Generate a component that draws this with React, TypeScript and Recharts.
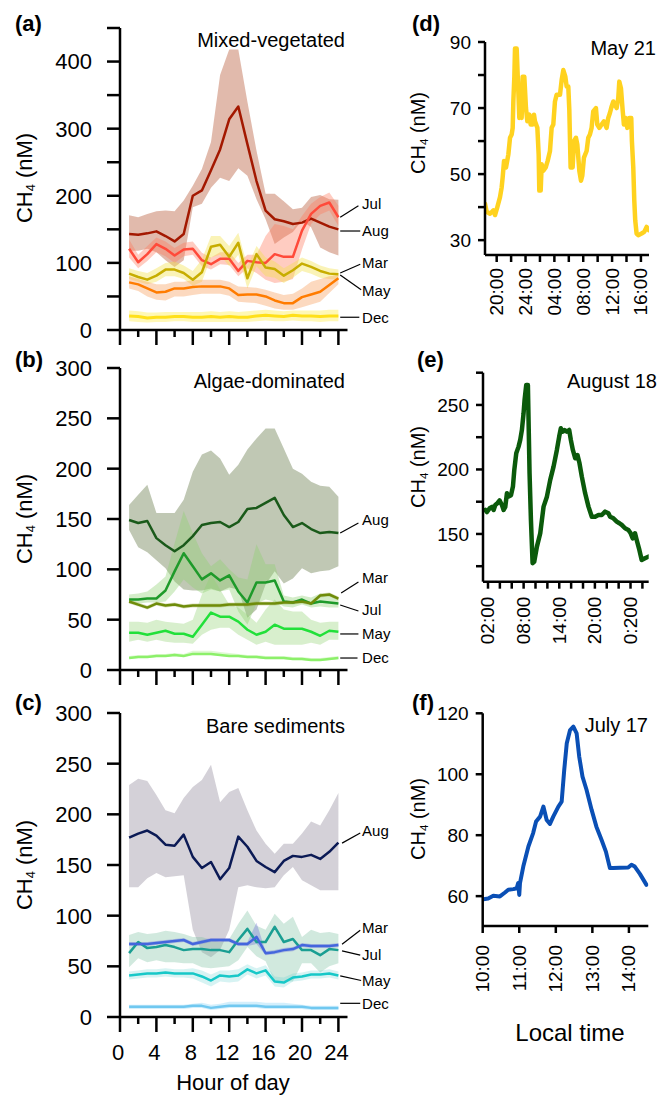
import React from "react";
import {
  ComposedChart,
  LineChart,
  Line,
  Area,
  XAxis,
  YAxis,
  ReferenceLine,
  ReferenceDot,
} from "recharts";

const FONT = "'Liberation Sans', Arial, Helvetica, sans-serif";

// hour of day, panels a-c
const hours = [1, 2, 3, 4, 5, 6, 7, 8, 9, 10, 11, 12, 13, 14, 15, 16, 17, 18, 19, 20, 21, 22, 23, 24];

// (a) Mixed-vegetated
const aAugMean = [143, 142, 144, 147, 140, 132, 143, 200, 208, 238, 269, 314, 333, 277, 222, 178, 165, 162, 158, 160, 166, 160, 154, 150];
const aAugHigh = [171, 168, 173, 177, 178, 177, 193, 215, 240, 280, 380, 418, 418, 340, 267, 203, 203, 192, 180, 182, 198, 201, 195, 194];
const aAugLow = [118, 118, 121, 116, 104, 94, 104, 183, 188, 212, 227, 222, 241, 230, 195, 165, 128, 138, 146, 163, 153, 123, 116, 111];
const aJulMean = [121, 101, 113, 128, 121, 111, 120, 121, 104, 98, 106, 106, 88, 103, 101, 100, 113, 109, 109, 148, 173, 185, 190, 168];
const aJulHigh = [135, 112, 125, 138, 132, 122, 130, 132, 115, 108, 116, 116, 100, 112, 112, 140, 158, 155, 150, 170, 188, 198, 205, 185];
const aJulLow = [108, 92, 103, 116, 110, 100, 110, 112, 95, 90, 98, 97, 80, 92, 85, 75, 70, 72, 76, 120, 158, 172, 178, 155];
const aMarMean = [84, 79, 75, 81, 90, 90, 85, 75, 86, 124, 127, 109, 130, 77, 113, 93, 91, 81, 89, 99, 94, 88, 84, 83];
const aMarHigh = [92, 88, 85, 92, 100, 102, 96, 88, 105, 140, 140, 125, 145, 95, 125, 108, 102, 92, 100, 108, 103, 96, 92, 90];
const aMarLow = [76, 72, 68, 72, 80, 80, 76, 66, 72, 108, 112, 95, 112, 62, 95, 80, 78, 70, 78, 88, 84, 78, 76, 75];
const aMayMean = [71, 68, 62, 56, 57, 62, 62, 64, 65, 65, 65, 62, 52, 53, 53, 50, 44, 40, 40, 49, 53, 57, 67, 77];
const aMayHigh = [80, 76, 72, 68, 68, 72, 72, 74, 75, 75, 75, 72, 65, 64, 63, 60, 56, 52, 54, 62, 72, 76, 80, 82];
const aMayLow = [62, 58, 50, 45, 44, 50, 50, 52, 54, 54, 54, 51, 42, 41, 40, 36, 32, 30, 30, 34, 38, 42, 55, 68];
const aDecMean = [21, 20, 18, 19, 19, 20, 20, 19, 19, 20, 19, 20, 19, 19, 21, 22, 21, 20, 22, 21, 21, 20, 21, 21];
const aDecHigh = [29, 28, 26, 26, 27, 27, 27, 27, 27, 28, 27, 28, 27, 28, 29, 30, 29, 28, 29, 29, 29, 29, 30, 30];
const aDecLow = [13, 12, 11, 12, 12, 13, 13, 12, 12, 12, 12, 12, 12, 12, 13, 14, 13, 13, 14, 13, 13, 12, 13, 13];

// (b) Algae-dominated
const bAugMean = [149, 146, 148, 131, 124, 118, 124, 133, 144, 146, 147, 142, 147, 160, 161, 166, 171, 154, 142, 146, 140, 136, 137, 136];
const bAugHigh = [164, 174, 184, 156, 156, 156, 169, 197, 214, 218, 210, 194, 204, 219, 230, 240, 240, 220, 200, 195, 187, 183, 182, 172];
const bAugLow = [139, 122, 117, 109, 101, 88, 80, 79, 79, 81, 78, 82, 80, 52, 60, 85, 98, 86, 91, 101, 96, 98, 99, 103];
const bJulMean = [70, 70, 71, 71, 79, 98, 116, 103, 90, 96, 89, 94, 78, 67, 87, 87, 89, 68, 67, 70, 66, 68, 67, 66];
const bJulHigh = [75, 76, 78, 85, 93, 126, 158, 136, 116, 103, 110, 100, 92, 90, 125, 105, 105, 74, 72, 74, 72, 76, 75, 72];
const bJulLow = [66, 66, 67, 67, 68, 78, 90, 82, 76, 80, 78, 80, 58, 45, 66, 70, 68, 63, 62, 65, 62, 63, 62, 62];
const bMarMean = [68, 65, 62, 66, 64, 65, 63, 64, 64, 64, 64, 65, 65, 65, 66, 66, 66, 67, 67, 68, 66, 74, 75, 71];
const bMarHigh = [70, 67, 64, 68, 66, 67, 65, 66, 66, 66, 66, 67, 67, 67, 68, 68, 68, 69, 69, 70, 68, 76, 77, 73];
const bMarLow = [66, 63, 60, 64, 62, 63, 61, 62, 62, 62, 62, 63, 63, 63, 64, 64, 64, 65, 65, 66, 64, 72, 73, 69];
const bMayMean = [37, 37, 35, 37, 39, 36, 36, 33, 45, 57, 53, 53, 48, 40, 35, 38, 45, 41, 41, 41, 38, 34, 39, 38];
const bMayHigh = [48, 48, 47, 50, 48, 47, 46, 50, 75, 95, 80, 65, 62, 55, 47, 60, 70, 60, 58, 58, 50, 47, 48, 48];
const bMayLow = [28, 30, 28, 30, 28, 27, 27, 26, 35, 40, 42, 42, 35, 30, 25, 28, 25, 25, 25, 25, 27, 25, 30, 30];
const bDecMean = [12, 13, 13, 14, 14, 15, 14, 16, 16, 16, 15, 14, 14, 13, 13, 12, 12, 12, 11, 11, 10, 10, 11, 12];
const bDecHigh = [14, 15, 15, 16, 16, 17, 16, 19, 19, 19, 18, 17, 16, 15, 15, 14, 14, 14, 13, 13, 12, 12, 13, 14];
const bDecLow = [11, 12, 12, 13, 13, 14, 13, 15, 15, 15, 14, 13, 13, 12, 12, 11, 11, 11, 10, 10, 9, 9, 10, 11];

// (c) Bare sediments
const cAugMean = [177, 181, 184, 179, 170, 169, 180, 158, 147, 153, 136, 147, 178, 168, 154, 148, 143, 154, 159, 158, 160, 156, 163, 172];
const cAugHigh = [229, 235, 233, 219, 204, 201, 216, 227, 234, 249, 212, 222, 226, 204, 184, 171, 161, 171, 171, 181, 193, 189, 204, 221];
const cAugLow = [128, 128, 137, 142, 138, 139, 140, 86, 64, 59, 66, 86, 128, 130, 128, 127, 128, 140, 148, 135, 130, 125, 125, 125];
const cMarMean = [72, 72, 72, 73, 74, 75, 76, 72, 74, 76, 76, 76, 72, 72, 79, 63, 64, 66, 67, 71, 70, 70, 70, 71];
const cMarHigh = [74, 74, 74, 75, 76, 77, 78, 74, 76, 78, 78, 78, 74, 74, 93, 65, 66, 68, 69, 73, 72, 72, 72, 73];
const cMarLow = [70, 70, 70, 71, 72, 73, 74, 70, 72, 74, 74, 74, 70, 70, 72, 61, 62, 64, 65, 69, 68, 68, 68, 69];
const cJulMean = [63, 74, 68, 69, 71, 69, 66, 67, 67, 66, 66, 64, 76, 87, 74, 74, 89, 74, 77, 66, 66, 61, 67, 66];
const cJulHigh = [81, 84, 82, 83, 85, 84, 82, 79, 79, 76, 74, 77, 92, 105, 90, 86, 102, 92, 99, 79, 86, 83, 84, 82];
const cJulLow = [49, 58, 54, 56, 54, 54, 53, 53, 49, 48, 49, 50, 56, 69, 60, 55, 35, 35, 35, 53, 53, 44, 50, 53];
const cMayMean = [41, 42, 43, 43, 44, 43, 43, 43, 40, 36, 41, 40, 41, 47, 43, 46, 35, 34, 39, 40, 42, 42, 43, 41];
const cMayHigh = [45, 46, 47, 47, 48, 47, 47, 48, 46, 42, 46, 46, 47, 52, 48, 51, 40, 39, 43, 44, 46, 46, 47, 45];
const cMayLow = [37, 38, 39, 39, 40, 39, 39, 38, 34, 30, 35, 34, 35, 42, 38, 41, 30, 29, 35, 36, 38, 38, 39, 37];
const cDecMean = [10, 10, 10, 10, 10, 10, 10, 11, 11, 9, 10, 11, 11, 11, 11, 10, 10, 10, 10, 10, 9, 9, 9, 9];
const cDecHigh = [12, 12, 12, 12, 12, 12, 12, 13, 14, 12, 13, 15, 15, 15, 15, 14, 14, 14, 13, 12, 11, 11, 11, 11];
const cDecLow = [8, 8, 8, 8, 8, 8, 8, 9, 9, 7, 8, 9, 9, 9, 9, 8, 8, 8, 8, 8, 7, 7, 7, 7];

// (d) May 21, hours since midnight of the first day
const dTimes = [18.38, 18.61, 19.08, 19.54, 19.77, 20.09, 20.46, 20.69, 20.83, 21.02, 21.29, 21.62, 21.85, 22.08, 22.22, 22.31, 22.45, 22.54, 22.77, 23.0, 23.14, 23.33, 23.46, 23.6, 23.83, 24.06, 24.25, 24.53, 24.71, 24.99, 25.17, 25.31, 25.64, 25.82, 25.91, 26.1, 26.24, 26.47, 26.79, 27.07, 27.39, 27.62, 27.85, 28.08, 28.31, 28.78, 29.01, 29.24, 29.52, 29.7, 29.93, 30.07, 30.25, 30.53, 30.72, 30.99, 31.18, 31.46, 31.69, 31.87, 32.1, 32.47, 32.7, 32.93, 33.16, 33.39, 33.76, 33.95, 34.23, 34.55, 34.87, 35.24, 35.47, 35.7, 35.94, 36.17, 36.4, 36.63, 36.86, 37.0, 37.23, 37.46, 37.64, 37.88, 38.11, 38.38, 38.66, 38.75, 38.94, 39.08, 39.21, 39.4, 39.63, 40.09, 40.46, 40.79, 41.1];
const dValues = [41, 38.6, 38, 39, 37.6, 40, 43, 46, 49, 54, 52, 56, 61, 62, 64, 72, 79.5, 88, 88, 75, 67, 74, 67, 79.5, 79.5, 70, 66, 68, 65, 65, 68, 66, 64, 56, 45, 45, 53, 51, 52, 54, 57, 64, 65, 72, 74, 74, 78.5, 81.5, 79.5, 76.5, 76.5, 69.5, 52, 52, 60, 61, 59, 51, 48, 49.5, 55, 57, 61, 62, 64, 69, 70, 65, 64, 65, 66, 64, 67, 68.5, 70.5, 72, 71, 70, 73, 78, 76, 69.5, 65, 67, 64, 67, 67, 60, 52, 42, 36, 32, 31.5, 32, 32.5, 34, 33];
const dTicks = [20, 22, 24, 26, 28, 30, 32, 34, 36, 38, 40];
const dLabelTicks = [20, 24, 28, 32, 36, 40];
const dLabels = ["20:00", "24:00", "04:00", "08:00", "12:00", "16:00"];

// (e) August 18
const eTimes = [1.55, 1.83, 2.28, 2.67, 2.95, 3.23, 3.62, 3.96, 4.35, 4.63, 4.91, 5.19, 5.47, 5.87, 6.2, 6.43, 6.76, 7.15, 7.43, 7.71, 7.99, 8.16, 8.44, 8.72, 9.0, 9.23, 9.51, 9.79, 10.24, 10.8, 11.36, 11.92, 12.48, 13.04, 13.6, 13.99, 14.27, 14.61, 14.89, 15.28, 15.67, 15.95, 16.29, 16.68, 17.07, 17.41, 17.8, 18.36, 18.92, 19.48, 20.04, 20.6, 21.16, 21.72, 22.28, 22.56, 23.12, 23.68, 24.13, 24.52, 25.08, 25.64, 26.03, 26.37, 26.76, 27.04, 27.49, 27.88, 28.44, 29.0];
const eValues = [168.6, 167, 170, 171, 168.6, 172.5, 174, 176, 172.5, 168.6, 171, 181.5, 179, 180, 186.7, 199.6, 212.5, 217.7, 222.9, 230.6, 243.5, 253.9, 265.5, 265.5, 197, 160.9, 127.3, 128.6, 140.2, 150.5, 171.2, 178.9, 191.9, 202.2, 215.1, 225.5, 231.9, 229.3, 230.6, 229.3, 230.6, 222.9, 215.1, 208.7, 211.2, 204.8, 194.4, 181.5, 171.2, 163.4, 163.4, 164.7, 164.7, 167.3, 166, 163.4, 162.1, 159.6, 158.3, 157, 154.4, 153.1, 150.5, 146.6, 150.5, 145.3, 137.6, 129.8, 131.1, 132.4];
const eTicks = [2, 4, 6, 8, 10, 12, 14, 16, 18, 20, 22, 24, 26, 28];
const eLabelTicks = [2, 8, 14, 20, 26];
const eLabels = ["02:00", "08:00", "14:00", "20:00", "0:200"];

// (f) July 17
const fTimes = [10.02, 10.15, 10.29, 10.47, 10.61, 10.7, 10.84, 10.93, 10.97, 11.0, 11.02, 11.11, 11.25, 11.38, 11.46, 11.57, 11.66, 11.75, 11.84, 11.93, 12.07, 12.16, 12.23, 12.3, 12.39, 12.48, 12.57, 12.64, 12.73, 12.84, 12.98, 13.11, 13.25, 13.37, 13.48, 13.57, 13.75, 13.98, 14.07, 14.16, 14.3, 14.48];
const fValues = [59.0, 59.2, 60.1, 59.9, 61.2, 62.1, 62.3, 62.6, 64.3, 60.4, 64.3, 69.7, 76.3, 80.7, 84.5, 86.1, 89.4, 85.0, 83.7, 86.1, 89.4, 91.0, 101.4, 110.2, 114.5, 115.6, 113.4, 105.8, 99.2, 94.9, 88.3, 82.8, 78.5, 74.6, 69.2, 69.2, 69.3, 69.4, 70.3, 69.7, 67.3, 63.7];
const fTicks = [10, 11, 12, 13, 14];
const fLabelTicks = [10, 11, 12, 13, 14];
const fLabels = ["10:00", "11:00", "12:00", "13:00", "14:00"];

type Season = {
  key: string;
  line: string;
  band: string;
  bandOpacity: number;
  width: number;
  mean: number[];
  low: number[];
  high: number[];
};

type Note = { label: string; from: [number, number]; to: [number, number]; textY: number };

const aSeasons: Season[] = [
  { key: "aug", line: "#a31800", band: "#b5532f", bandOpacity: 0.4, width: 2.5, mean: aAugMean, low: aAugLow, high: aAugHigh },
  { key: "jul", line: "#ff4a3a", band: "#ff7a5c", bandOpacity: 0.38, width: 2.5, mean: aJulMean, low: aJulLow, high: aJulHigh },
  { key: "mar", line: "#c7ad00", band: "#f2e24a", bandOpacity: 0.4, width: 2.5, mean: aMarMean, low: aMarLow, high: aMarHigh },
  { key: "may", line: "#ff7c00", band: "#f7a060", bandOpacity: 0.4, width: 2.5, mean: aMayMean, low: aMayLow, high: aMayHigh },
  { key: "dec", line: "#ffe01a", band: "#fff05a", bandOpacity: 0.45, width: 3, mean: aDecMean, low: aDecLow, high: aDecHigh },
];
const bSeasons: Season[] = [
  { key: "aug", line: "#1a5a1a", band: "#5a6e3a", bandOpacity: 0.38, width: 2.5, mean: bAugMean, low: bAugLow, high: bAugHigh },
  { key: "jul", line: "#1e9a2a", band: "#8fd070", bandOpacity: 0.38, width: 2.5, mean: bJulMean, low: bJulLow, high: bJulHigh },
  { key: "may", line: "#22e03a", band: "#8fd070", bandOpacity: 0.35, width: 2.5, mean: bMayMean, low: bMayLow, high: bMayHigh },
  { key: "dec", line: "#8cf06a", band: "#b0f090", bandOpacity: 0.4, width: 2.5, mean: bDecMean, low: bDecLow, high: bDecHigh },
  { key: "mar", line: "#6f8c0a", band: "#8a9a30", bandOpacity: 0.3, width: 2.5, mean: bMarMean, low: bMarLow, high: bMarHigh },
];
const cSeasons: Season[] = [
  { key: "aug", line: "#0b1a55", band: "#a09aa8", bandOpacity: 0.45, width: 2.5, mean: cAugMean, low: cAugLow, high: cAugHigh },
  { key: "jul", line: "#1a9e92", band: "#7cc0a0", bandOpacity: 0.35, width: 2.5, mean: cJulMean, low: cJulLow, high: cJulHigh },
  { key: "may", line: "#17c8c8", band: "#60d0d0", bandOpacity: 0.25, width: 2.5, mean: cMayMean, low: cMayLow, high: cMayHigh },
  { key: "dec", line: "#70c8f0", band: "#90d8f8", bandOpacity: 0.4, width: 2.5, mean: cDecMean, low: cDecLow, high: cDecHigh },
  { key: "mar", line: "#4466dd", band: "#6a6ad8", bandOpacity: 0.35, width: 2.5, mean: cMarMean, low: cMarLow, high: cMarHigh },
];

const aNotes: Note[] = [
  { label: "Jul", from: [24.2, 168], to: [26.2, 185], textY: 188 },
  { label: "Aug", from: [24.2, 147.5], to: [26.4, 147.5], textY: 147.5 },
  { label: "Mar", from: [24.2, 85], to: [26.4, 98], textY: 101 },
  { label: "May", from: [24.2, 82], to: [26.5, 60], textY: 58 },
  { label: "Dec", from: [24.2, 19], to: [26.3, 19], textY: 19 },
];
const bNotes: Note[] = [
  { label: "Aug", from: [24.2, 136], to: [26.2, 146], textY: 149 },
  { label: "Mar", from: [24.3, 76.5], to: [26.2, 87.4], textY: 92 },
  { label: "Jul", from: [24.2, 64.6], to: [26.2, 58.6], textY: 60 },
  { label: "May", from: [24.2, 35.8], to: [26.2, 35.8], textY: 36 },
  { label: "Dec", from: [24.2, 11.9], to: [26.1, 11.9], textY: 12 },
];
const cNotes: Note[] = [
  { label: "Aug", from: [24.4, 171.6], to: [26.4, 181.5], textY: 184 },
  { label: "Mar", from: [24.4, 71.8], to: [26.4, 85.6], textY: 88.6 },
  { label: "Jul", from: [24.4, 65.2], to: [26.4, 61], textY: 62 },
  { label: "May", from: [24.2, 40.5], to: [26.5, 36], textY: 36 },
  { label: "Dec", from: [24.2, 13.5], to: [26.4, 13.5], textY: 13.5 },
];

const leftXTicks = [0, 2, 4, 6, 8, 10, 12, 14, 16, 18, 20, 22, 24];

const LeftXTick = (props: any) => {
  const { x, y, payload, showLabels } = props;
  const major = payload.value % 4 === 0;
  return (
    <g>
      <line x1={x} y1={y} x2={x} y2={y + (major ? 15 : 7)} stroke="#000" strokeWidth={2.5} />
      {showLabels && major && (
        <text x={x - 2} y={y + 43} textAnchor="middle" fontSize={22} fontFamily={FONT} fill="#000">
          {payload.value}
        </text>
      )}
    </g>
  );
};

const LeftYTick = (props: any) => {
  const { x, y, payload, labels } = props;
  return (
    <g>
      <line x1={x} y1={y} x2={x - 13} y2={y} stroke="#000" strokeWidth={2.5} />
      {labels.includes(payload.value) && (
        <text x={x - 28} y={y} dy="0.36em" textAnchor="end" fontSize={22} fontFamily={FONT} fill="#000">
          {payload.value}
        </text>
      )}
    </g>
  );
};

const RightXTick = (props: any) => {
  const { x, y, payload, labelTicks, labels, gap } = props;
  const idx = labelTicks.indexOf(payload.value);
  const ty = y + gap;
  return (
    <g>
      <line x1={x} y1={y} x2={x} y2={y + 7} stroke="#000" strokeWidth={2.5} />
      {idx >= 0 && (
        <text
          x={x}
          y={ty}
          transform={`rotate(-90 ${x} ${ty})`}
          textAnchor="end"
          dominantBaseline="central"
          fontSize={19}
          fontFamily={FONT}
          fill="#000"
        >
          {labels[idx]}
        </text>
      )}
    </g>
  );
};

const RightYTick = (props: any) => {
  const { x, y, payload, labels } = props;
  return (
    <g>
      <line x1={x} y1={y} x2={x - 7} y2={y} stroke="#000" strokeWidth={2.5} />
      {labels.includes(payload.value) && (
        <text x={x - 14} y={y} dy="0.36em" textAnchor="end" fontSize={19} fontFamily={FONT} fill="#000">
          {payload.value}
        </text>
      )}
    </g>
  );
};

const axisStyle = { stroke: "#000", strokeWidth: 2.5 };

interface LeftPanelProps {
  top: number;
  plotTop: number;
  plotHeight: number;
  xAxisHeight: number;
  yMax: number;
  yTicks: number[];
  yLabels: number[];
  seasons: Season[];
  notes: Note[];
  showXLabels: boolean;
}

const LeftPanel: React.FC<LeftPanelProps> = ({
  top,
  plotTop,
  plotHeight,
  xAxisHeight,
  yMax,
  yTicks,
  yLabels,
  seasons,
  notes,
  showXLabels,
}) => {
  const rows = hours.map((h, i) => {
    const row: Record<string, any> = { h };
    seasons.forEach((s) => {
      row[s.key] = s.mean[i];
      row[s.key + "Band"] = [s.low[i], s.high[i]];
    });
    return row;
  });

  return (
    <div style={{ position: "absolute", left: 0, top }}>
      <ComposedChart
        width={400}
        height={plotTop + plotHeight + xAxisHeight}
        data={rows}
        margin={{ top: plotTop, right: 52.5, left: 0, bottom: 0 }}
      >
        <XAxis
          type="number"
          dataKey="h"
          domain={[0, 25]}
          ticks={leftXTicks}
          interval={0}
          height={xAxisHeight}
          tickSize={0}
          tickMargin={0}
          tickLine={false}
          axisLine={axisStyle}
          tick={(p: any) => <LeftXTick {...p} showLabels={showXLabels} />}
        />
        <YAxis
          type="number"
          domain={[0, yMax]}
          ticks={yTicks}
          interval={0}
          width={120}
          tickSize={0}
          tickMargin={0}
          tickLine={false}
          axisLine={axisStyle}
          tick={(p: any) => <LeftYTick {...p} labels={yLabels} />}
        />
        {seasons.map((s) => (
          <Area
            key={s.key + "Band"}
            type="linear"
            dataKey={s.key + "Band"}
            stroke="none"
            fill={s.band}
            fillOpacity={s.bandOpacity}
            isAnimationActive={false}
            activeDot={false}
          />
        ))}
        {seasons.map((s) => (
          <Line
            key={s.key}
            type="linear"
            dataKey={s.key}
            stroke={s.line}
            strokeWidth={s.width}
            strokeLinejoin="round"
            dot={false}
            activeDot={false}
            isAnimationActive={false}
          />
        ))}
        {notes.map((n) => (
          <ReferenceLine
            key={n.label + "line"}
            segment={[
              { x: n.from[0], y: n.from[1] },
              { x: n.to[0], y: n.to[1] },
            ]}
            stroke="#000"
            strokeWidth={1.2}
            ifOverflow="visible"
          />
        ))}
        {notes.map((n) => (
          <ReferenceDot
            key={n.label + "text"}
            x={26.6}
            y={n.textY}
            r={0}
            ifOverflow="visible"
            shape={(p: any) => (
              <text x={p.cx} y={p.cy} dy="0.36em" fontSize={15} fontFamily={FONT} fill="#000">
                {n.label}
              </text>
            )}
          />
        ))}
      </ComposedChart>
    </div>
  );
};

interface RightPanelProps {
  top: number;
  plotTop: number;
  plotHeight: number;
  axisX: number;
  plotRight: number;
  xDomain: [number, number];
  yDomain: [number, number];
  xTicks: number[];
  xLabelTicks: number[];
  xLabels: string[];
  yTicks: number[];
  yLabels: number[];
  labelGap: number;
  times: number[];
  values: number[];
  color: string;
  width: number;
}

const RightPanel: React.FC<RightPanelProps> = ({
  top,
  plotTop,
  plotHeight,
  axisX,
  plotRight,
  xDomain,
  yDomain,
  xTicks,
  xLabelTicks,
  xLabels,
  yTicks,
  yLabels,
  labelGap,
  times,
  values,
  color,
  width,
}) => {
  const rows = times.map((t, i) => ({ t, v: values[i] }));
  return (
    <div style={{ position: "absolute", left: 380, top }}>
      <LineChart
        width={279}
        height={plotTop + plotHeight + 70}
        data={rows}
        margin={{ top: plotTop, right: 659 - plotRight, left: 0, bottom: 0 }}
      >
        <XAxis
          type="number"
          dataKey="t"
          domain={xDomain}
          ticks={xTicks}
          interval={0}
          height={70}
          tickSize={0}
          tickMargin={0}
          tickLine={false}
          axisLine={axisStyle}
          allowDataOverflow
          tick={(p: any) => <RightXTick {...p} labelTicks={xLabelTicks} labels={xLabels} gap={labelGap} />}
        />
        <YAxis
          type="number"
          domain={yDomain}
          ticks={yTicks}
          interval={0}
          width={axisX - 380}
          tickSize={0}
          tickMargin={0}
          tickLine={false}
          axisLine={axisStyle}
          allowDataOverflow
          tick={(p: any) => <RightYTick {...p} labels={yLabels} />}
        />
        <Line
          type="linear"
          dataKey="v"
          stroke={color}
          strokeWidth={width}
          strokeLinejoin="round"
          strokeLinecap="round"
          dot={false}
          activeDot={false}
          isAnimationActive={false}
        />
      </LineChart>
    </div>
  );
};

const CH4Label = ({ x, y, size }: { x: number; y: number; size: number }) => (
  <text
    transform={`translate(${x},${y}) rotate(-90)`}
    textAnchor="middle"
    dominantBaseline="central"
    fontSize={size}
    fontFamily={FONT}
    fill="#000"
  >
    CH
    <tspan fontSize={size * 0.58} dy={size * 0.25}>
      4
    </tspan>
    <tspan dy={-size * 0.25}> (nM)</tspan>
  </text>
);

const textStyle = { fontFamily: FONT, fill: "#000" };

export default function App() {
  return (
    <div style={{ position: "absolute", left: 0, top: 0, width: 659, height: 1097, background: "#fff" }}>
      <LeftPanel
        top={0}
        plotTop={28}
        plotHeight={302}
        xAxisHeight={20}
        yMax={450}
        yTicks={[0, 50, 100, 150, 200, 250, 300, 350, 400, 450]}
        yLabels={[0, 100, 200, 300, 400]}
        seasons={aSeasons}
        notes={aNotes}
        showXLabels={false}
      />
      <LeftPanel
        top={340}
        plotTop={28}
        plotHeight={302}
        xAxisHeight={20}
        yMax={300}
        yTicks={[0, 50, 100, 150, 200, 250, 300]}
        yLabels={[0, 50, 100, 150, 200, 250, 300]}
        seasons={bSeasons}
        notes={bNotes}
        showXLabels={false}
      />
      <LeftPanel
        top={680}
        plotTop={33}
        plotHeight={304}
        xAxisHeight={60}
        yMax={300}
        yTicks={[0, 50, 100, 150, 200, 250, 300]}
        yLabels={[0, 50, 100, 150, 200, 250, 300]}
        seasons={cSeasons}
        notes={cNotes}
        showXLabels={true}
      />
      <RightPanel
        top={0}
        plotTop={42}
        plotHeight={213}
        axisX={485}
        plotRight={649}
        xDomain={[18.38, 41.12]}
        yDomain={[25.5, 90]}
        xTicks={dTicks}
        xLabelTicks={dLabelTicks}
        xLabels={dLabels}
        yTicks={[30, 40, 50, 60, 70, 80, 90]}
        yLabels={[30, 50, 70, 90]}
        labelGap={13}
        times={dTimes}
        values={dValues}
        color="#ffd21f"
        width={4.5}
      />
      <RightPanel
        top={340}
        plotTop={32.7}
        plotHeight={209}
        axisX={483}
        plotRight={648.7}
        xDomain={[1.16, 29.06]}
        yDomain={[113, 275]}
        xTicks={eTicks}
        xLabelTicks={eLabelTicks}
        xLabels={eLabels}
        yTicks={[125, 150, 175, 200, 225, 250, 275]}
        yLabels={[150, 200, 250]}
        labelGap={15}
        times={eTimes}
        values={eValues}
        color="#0b5a0b"
        width={4.5}
      />
      <RightPanel
        top={670}
        plotTop={43.3}
        plotHeight={212.7}
        axisX={482.7}
        plotRight={648.3}
        xDomain={[10, 14.53]}
        yDomain={[50.2, 120]}
        xTicks={fTicks}
        xLabelTicks={fLabelTicks}
        xLabels={fLabels}
        yTicks={[60, 80, 100, 120]}
        yLabels={[60, 80, 100, 120]}
        labelGap={19}
        times={fTimes}
        values={fValues}
        color="#0a4fb5"
        width={4}
      />
      <svg
        width={659}
        height={1097}
        style={{ position: "absolute", left: 0, top: 0, pointerEvents: "none" }}
      >
        <g fontWeight="bold" fontSize={22} style={textStyle}>
          <text x={15} y={31}>(a)</text>
          <text x={15} y={367}>(b)</text>
          <text x={15} y={710}>(c)</text>
          <text x={412} y={31}>(d)</text>
          <text x={417} y={367}>(e)</text>
          <text x={412} y={710}>(f)</text>
        </g>
        <g fontSize={20} textAnchor="end" style={textStyle}>
          <text x={345} y={47}>Mixed-vegetated</text>
          <text x={345} y={388}>Algae-dominated</text>
          <text x={345} y={733}>Bare sediments</text>
          <text x={656} y={55}>May 21</text>
          <text x={657} y={388}>August 18</text>
          <text x={648} y={732}>July 17</text>
        </g>
        <CH4Label x={24} y={178} size={22} />
        <CH4Label x={24} y={519} size={22} />
        <CH4Label x={24} y={865} size={22} />
        <CH4Label x={418} y={133} size={20} />
        <CH4Label x={418} y={467} size={20} />
        <CH4Label x={418} y={819} size={20} />
        <text x={233} y={1090} textAnchor="middle" fontSize={22} style={textStyle}>
          Hour of day
        </text>
        <text x={570} y={1041} textAnchor="middle" fontSize={24} style={textStyle}>
          Local time
        </text>
      </svg>
    </div>
  );
}
